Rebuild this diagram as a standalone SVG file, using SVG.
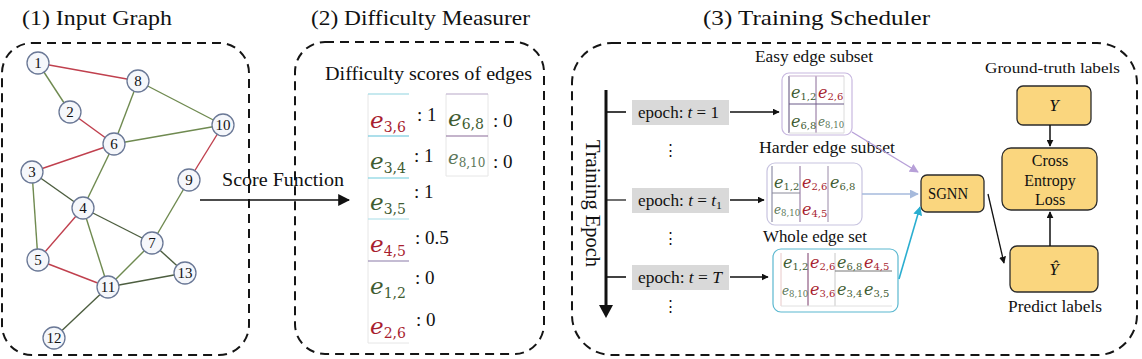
<svg xmlns="http://www.w3.org/2000/svg" width="1142" height="359" viewBox="0 0 1142 359">
<defs>
<style>
.t{font-family:"Liberation Serif","DejaVu Serif",serif;fill:#111}
.title{font-size:21px}
.panel{fill:none;stroke:#151515;stroke-width:2;stroke-dasharray:9 6}
.node circle{fill:#f5f7fb;stroke:#6a7896;stroke-width:1.3}
.node text{font-family:"Liberation Serif",serif;font-size:15px;text-anchor:middle;fill:#111}
.er{stroke:#c0404e;stroke-width:1.4}
.eg{stroke:#6f8a50;stroke-width:1.4}
.ed{stroke:#4d5e40;stroke-width:1.4}
.m{font-family:"DejaVu Serif","Liberation Serif",serif;font-style:italic}
.sub{font-style:normal}
.red{fill:#a81e30}
.grn{fill:#3f5c32}
.lg{fill:#5c775a}
.sc{font-family:"Liberation Serif",serif;font-size:19px;fill:#111}
.ep{fill:#d9d9d9}
.box{fill:#fad67e;stroke:#2b2b2b;stroke-width:1.3}
.ax{stroke:#111;stroke-width:1.6;fill:none}
.cell{stroke-width:1;fill:none}
</style>
<marker id="ah" viewBox="0 0 10 10" refX="9" refY="5" markerWidth="7" markerHeight="7" markerUnits="userSpaceOnUse" orient="auto"><path d="M0,0L10,5L0,10z" fill="#111"/></marker>
<marker id="ahb" viewBox="0 0 10 10" refX="9" refY="5" markerWidth="12" markerHeight="12" markerUnits="userSpaceOnUse" orient="auto"><path d="M0,0L10,5L0,10z" fill="#111"/></marker>
<marker id="ahp" viewBox="0 0 10 10" refX="9" refY="5" markerWidth="9" markerHeight="9" markerUnits="userSpaceOnUse" orient="auto"><path d="M0,0L10,5L0,10z" fill="#b7a0d8"/></marker>
<marker id="ahl" viewBox="0 0 10 10" refX="9" refY="5" markerWidth="9" markerHeight="9" markerUnits="userSpaceOnUse" orient="auto"><path d="M0,0L10,5L0,10z" fill="#a6badc"/></marker>
<marker id="ahc" viewBox="0 0 10 10" refX="9" refY="5" markerWidth="9" markerHeight="9" markerUnits="userSpaceOnUse" orient="auto"><path d="M0,0L10,5L0,10z" fill="#2aaed0"/></marker>
</defs>
<rect width="1142" height="359" fill="#fff"/>

<!-- Titles -->
<text class="t title" x="22" y="25" textLength="150" lengthAdjust="spacingAndGlyphs">(1) Input Graph</text>
<text class="t title" x="311" y="25" textLength="219" lengthAdjust="spacingAndGlyphs">(2) Difficulty Measurer</text>
<text class="t title" x="703" y="25" textLength="227" lengthAdjust="spacingAndGlyphs">(3) Training Scheduler</text>

<!-- Panels -->
<rect id="panel1" class="panel" x="2" y="43" width="247" height="312" rx="30"/>
<rect id="panel2" class="panel" x="295" y="42" width="249" height="312" rx="30"/>
<rect id="panel3" class="panel" x="572" y="43" width="565" height="312" rx="40"/>

<!-- Graph edges -->
<g id="graph-edges">
<line class="er" x1="38" y1="63" x2="138" y2="81"/>
<line class="eg" x1="38" y1="63" x2="70" y2="112"/>
<line class="er" x1="70" y1="112" x2="114" y2="144"/>
<line class="eg" x1="138" y1="81" x2="114" y2="144"/>
<line class="eg" x1="138" y1="81" x2="223" y2="125"/>
<line class="eg" x1="114" y1="144" x2="223" y2="125"/>
<line class="er" x1="32" y1="172" x2="114" y2="144"/>
<line class="eg" x1="114" y1="144" x2="83" y2="208"/>
<line class="er" x1="223" y1="125" x2="189" y2="180"/>
<line class="eg" x1="189" y1="180" x2="152" y2="243"/>
<line class="ed" x1="32" y1="172" x2="83" y2="208"/>
<line class="eg" x1="32" y1="172" x2="38" y2="260"/>
<line class="er" x1="83" y1="208" x2="38" y2="260"/>
<line class="ed" x1="83" y1="208" x2="152" y2="243"/>
<line class="eg" x1="83" y1="208" x2="108" y2="287"/>
<line class="er" x1="38" y1="260" x2="108" y2="287"/>
<line class="eg" x1="152" y1="243" x2="108" y2="287"/>
<line class="ed" x1="152" y1="243" x2="185" y2="273"/>
<line class="ed" x1="108" y1="287" x2="185" y2="273"/>
<line class="ed" x1="108" y1="287" x2="54" y2="338"/>
</g>

<!-- Graph nodes -->
<g id="n1" class="node"><circle cx="38" cy="63" r="11"/><text x="38" y="68">1</text></g>
<g id="n8" class="node"><circle cx="138" cy="81" r="11"/><text x="138" y="86">8</text></g>
<g id="n2" class="node"><circle cx="70" cy="112" r="11"/><text x="70" y="117">2</text></g>
<g id="n10" class="node"><circle cx="223" cy="125" r="11"/><text x="223" y="130">10</text></g>
<g id="n6" class="node"><circle cx="114" cy="144" r="11"/><text x="114" y="149">6</text></g>
<g id="n3" class="node"><circle cx="32" cy="172" r="11"/><text x="32" y="177">3</text></g>
<g id="n9" class="node"><circle cx="189" cy="180" r="11"/><text x="189" y="185">9</text></g>
<g id="n4" class="node"><circle cx="83" cy="208" r="11"/><text x="83" y="213">4</text></g>
<g id="n7" class="node"><circle cx="152" cy="243" r="11"/><text x="152" y="248">7</text></g>
<g id="n5" class="node"><circle cx="38" cy="260" r="11"/><text x="38" y="265">5</text></g>
<g id="n13" class="node"><circle cx="185" cy="273" r="11"/><text x="185" y="278">13</text></g>
<g id="n11" class="node"><circle cx="108" cy="287" r="11"/><text x="108" y="292">11</text></g>
<g id="n12" class="node"><circle cx="54" cy="338" r="11"/><text x="54" y="343">12</text></g>

<!-- Score function -->
<g id="score-function">
<text class="t" x="222" y="186" font-size="18" textLength="122" lengthAdjust="spacingAndGlyphs">Score Function</text>
<line class="ax" x1="200" y1="200" x2="349" y2="200" stroke-width="2" marker-end="url(#ahb)"/>
</g>

<!-- Difficulty scores -->
<g id="scores">
<text class="t" x="325" y="80" font-size="18" textLength="207" lengthAdjust="spacingAndGlyphs">Difficulty scores of edges</text>
<g stroke="#e6e6e6" stroke-width="1" fill="none">
<line x1="368" y1="94" x2="368" y2="343"/>
<line x1="446" y1="94" x2="446" y2="176"/>
<line x1="488" y1="94" x2="488" y2="176"/>
<line x1="446" y1="176" x2="488" y2="176"/>
<line x1="368" y1="343" x2="409" y2="343"/>
</g>
<g stroke-width="1.2">
<line x1="368" y1="94" x2="409" y2="94" stroke="#8fd4e0"/>
<line x1="368" y1="136" x2="409" y2="136" stroke="#5cc0d8"/>
<line x1="368" y1="178" x2="409" y2="178" stroke="#6ccbdc"/>
<line x1="368" y1="219" x2="409" y2="219" stroke="#a8dde8"/>
<line x1="368" y1="261" x2="409" y2="261" stroke="#8a7aa8"/>
<line x1="446" y1="94" x2="488" y2="94" stroke="#b8a8c8"/>
<line x1="446" y1="136" x2="488" y2="136" stroke="#8a6a98"/>
</g>
<text class="m red" x="370" y="128" font-size="23">e<tspan class="sub" font-size="14" dy="4">3,6</tspan></text>
<text class="m grn" x="370" y="169" font-size="23">e<tspan class="sub" font-size="14" dy="4">3,4</tspan></text>
<text class="m grn" x="370" y="210" font-size="23">e<tspan class="sub" font-size="14" dy="4">3,5</tspan></text>
<text class="m red" x="370" y="252" font-size="23">e<tspan class="sub" font-size="14" dy="4">4,5</tspan></text>
<text class="m grn" x="370" y="294" font-size="23">e<tspan class="sub" font-size="14" dy="4">1,2</tspan></text>
<text class="m red" x="370" y="334" font-size="23">e<tspan class="sub" font-size="14" dy="4">2,6</tspan></text>
<text class="m grn" x="448" y="126" font-size="23">e<tspan class="sub" font-size="14" dy="3">6,8</tspan></text>
<text class="m lg" x="448" y="164" font-size="18">e<tspan class="sub" font-size="12" dy="3">8,10</tspan></text>
<text class="sc" x="417" y="121">: 1</text>
<text class="sc" x="414" y="162">: 1</text>
<text class="sc" x="414" y="198">: 1</text>
<text class="sc" x="415" y="244">: 0.5</text>
<text class="sc" x="415" y="284">: 0</text>
<text class="sc" x="416" y="326">: 0</text>
<text class="sc" x="493" y="127">: 0</text>
<text class="sc" x="493" y="168">: 0</text>
</g>

<!-- Training axis -->
<g id="training-axis">
<line x1="606" y1="90" x2="606" y2="306" stroke="#111" stroke-width="3"/>
<path d="M599,305L613,305L606,318z" fill="#111"/>
<line x1="606" y1="112" x2="626" y2="112" stroke="#111" stroke-width="1.6"/>
<line x1="606" y1="200" x2="626" y2="200" stroke="#111" stroke-width="1.2"/>
<line x1="606" y1="277" x2="626" y2="277" stroke="#111" stroke-width="1.6"/>
<text class="t" transform="translate(593,140) rotate(90)" dominant-baseline="central" font-size="20" textLength="127" lengthAdjust="spacingAndGlyphs">Training Epoch</text>
</g>

<!-- Epoch boxes -->
<g id="epoch1"><rect class="ep" x="632" y="100" width="97" height="25"/><text class="t" x="638" y="118" font-size="16" textLength="81" lengthAdjust="spacingAndGlyphs">epoch: <tspan font-style="italic">t</tspan> = 1</text></g>
<g id="epoch2"><rect class="ep" x="632" y="188" width="97" height="25"/><text class="t" x="638" y="206" font-size="16" textLength="84" lengthAdjust="spacingAndGlyphs">epoch: <tspan font-style="italic">t</tspan> = <tspan font-style="italic">t</tspan><tspan font-size="11" dy="3">1</tspan></text></g>
<g id="epoch3"><rect class="ep" x="632" y="265" width="97" height="25"/><text class="t" x="638" y="283" font-size="16" textLength="84" lengthAdjust="spacingAndGlyphs">epoch: <tspan font-style="italic">t</tspan> = <tspan font-style="italic">T</tspan></text></g>
<g id="vdots" class="t" font-size="15" text-anchor="middle">
<text x="670" y="155">⋮</text>
<text x="670" y="243">⋮</text>
<text x="670" y="311">⋮</text>
</g>

<!-- Easy subset -->
<g id="easy-subset">
<text class="t" x="755" y="62" font-size="16" textLength="118" lengthAdjust="spacingAndGlyphs">Easy edge subset</text>
<rect x="782" y="73" width="70" height="62" rx="7" fill="#fff" stroke="#c8b8e0" stroke-width="1.2"/>
<g class="cell">
<line x1="789" y1="76" x2="789" y2="133" stroke="#5a4a78"/>
<line x1="816" y1="76" x2="816" y2="133" stroke="#8a6a98"/>
<line x1="844" y1="76" x2="844" y2="133" stroke="#dcdcdc"/>
<line x1="789" y1="76" x2="844" y2="76" stroke="#c8b0d0"/>
<line x1="789" y1="104" x2="844" y2="104" stroke="#6a5a88"/>
<line x1="789" y1="133" x2="844" y2="133" stroke="#dcdcdc"/>
</g>
<text class="m grn" x="791" y="98" font-size="16">e<tspan class="sub" font-size="10" dy="2">1,2</tspan></text>
<text class="m red" x="818" y="98" font-size="16">e<tspan class="sub" font-size="10" dy="2">2,6</tspan></text>
<text class="m grn" x="791" y="127" font-size="16">e<tspan class="sub" font-size="10" dy="2">6,8</tspan></text>
<text class="m lg" x="818" y="126" font-size="12">e<tspan class="sub" font-size="8.5" dy="2">8,10</tspan></text>
</g>

<!-- Harder subset -->
<g id="harder-subset">
<text class="t" x="759" y="153" font-size="16" textLength="136" lengthAdjust="spacingAndGlyphs">Harder edge subset</text>
<rect x="767" y="163" width="95" height="62" rx="8" fill="#fff" stroke="#c8c4e0" stroke-width="1.2"/>
<g class="cell">
<line x1="772" y1="166" x2="772" y2="222" stroke="#7a7a98"/>
<line x1="800" y1="166" x2="800" y2="222" stroke="#8a6a98"/>
<line x1="828" y1="166" x2="828" y2="222" stroke="#9a8aa8"/>
<line x1="772" y1="193" x2="800" y2="193" stroke="#8a8a9a"/>
</g>
<text class="m grn" x="774" y="188" font-size="16">e<tspan class="sub" font-size="10" dy="2">1,2</tspan></text>
<text class="m red" x="802" y="188" font-size="16">e<tspan class="sub" font-size="10" dy="2">2,6</tspan></text>
<text class="m grn" x="830" y="188" font-size="16">e<tspan class="sub" font-size="10" dy="2">6,8</tspan></text>
<text class="m lg" x="774" y="214" font-size="12">e<tspan class="sub" font-size="8.5" dy="2">8,10</tspan></text>
<text class="m red" x="802" y="215" font-size="16">e<tspan class="sub" font-size="10" dy="2">4,5</tspan></text>
</g>

<!-- Whole set -->
<g id="whole-set">
<text class="t" x="763" y="242" font-size="16" textLength="104" lengthAdjust="spacingAndGlyphs">Whole edge set</text>
<rect x="773" y="249" width="125" height="63" rx="8" fill="#fff" stroke="#5ab8d0" stroke-width="1.2"/>
<g class="cell">
<line x1="781" y1="253" x2="781" y2="306" stroke="#e8c8c8"/>
<line x1="808" y1="253" x2="808" y2="306" stroke="#7a3a6a"/>
<line x1="835" y1="253" x2="835" y2="306" stroke="#c8c8c8"/>
<line x1="835" y1="271" x2="892" y2="271" stroke="#777"/>
<line x1="781" y1="306" x2="892" y2="306" stroke="#e0e0e0"/>
</g>
<text class="m grn" x="783" y="268" font-size="16">e<tspan class="sub" font-size="10" dy="2">1,2</tspan></text>
<text class="m red" x="810" y="268" font-size="16">e<tspan class="sub" font-size="10" dy="2">2,6</tspan></text>
<text class="m grn" x="837" y="268" font-size="16">e<tspan class="sub" font-size="10" dy="2">6,8</tspan></text>
<text class="m red" x="864" y="268" font-size="16">e<tspan class="sub" font-size="10" dy="2">4,5</tspan></text>
<text class="m lg" x="782" y="295" font-size="12">e<tspan class="sub" font-size="8.5" dy="2">8,10</tspan></text>
<text class="m red" x="810" y="295" font-size="16">e<tspan class="sub" font-size="10" dy="2">3,6</tspan></text>
<text class="m grn" x="837" y="295" font-size="16">e<tspan class="sub" font-size="10" dy="2">3,4</tspan></text>
<text class="m grn" x="864" y="295" font-size="16">e<tspan class="sub" font-size="10" dy="2">3,5</tspan></text>
</g>

<!-- SGNN and loss -->
<g id="sgnn"><rect class="box" x="921" y="175" width="63" height="37" rx="6"/><text class="t" x="928" y="199" font-size="16" textLength="40" lengthAdjust="spacingAndGlyphs">SGNN</text></g>
<g id="y-true"><rect class="box" x="1017" y="86" width="74" height="39" rx="6"/><text class="t" x="1054" y="111" font-size="17" font-style="italic" text-anchor="middle">Y</text></g>
<g id="loss"><rect class="box" x="1002" y="148" width="95" height="62" rx="9"/>
<text class="t" font-size="16" text-anchor="middle"><tspan x="1050" y="166">Cross</tspan><tspan x="1050" y="186">Entropy</tspan><tspan x="1050" y="205">Loss</tspan></text></g>
<g id="y-pred"><rect class="box" x="1010" y="246" width="88" height="46" rx="7"/><text class="t" x="1054" y="275" font-size="17" font-style="italic" text-anchor="middle">Ŷ</text></g>
<text class="t" x="985" y="73" font-size="15" textLength="135" lengthAdjust="spacingAndGlyphs">Ground-truth labels</text>
<text class="t" x="1008" y="312" font-size="16" textLength="94" lengthAdjust="spacingAndGlyphs">Predict labels</text>

<!-- Connectors -->
<g id="connectors">
<line x1="730" y1="112" x2="779" y2="112" stroke="#111" stroke-width="1.6" marker-end="url(#ah)"/>
<line x1="730" y1="200" x2="764" y2="200" stroke="#111" stroke-width="1.6" marker-end="url(#ah)"/>
<line x1="730" y1="277" x2="768" y2="277" stroke="#111" stroke-width="1.6" marker-end="url(#ah)"/>
<line x1="852" y1="132" x2="918" y2="172" stroke="#b7a0d8" stroke-width="1.4" marker-end="url(#ahp)"/>
<line x1="862" y1="194" x2="918" y2="194" stroke="#a6badc" stroke-width="1.4" marker-end="url(#ahl)"/>
<line x1="899" y1="279" x2="920" y2="207" stroke="#2aaed0" stroke-width="1.6" marker-end="url(#ahc)"/>
<line x1="988" y1="194" x2="1004" y2="263" stroke="#111" stroke-width="1.3" marker-end="url(#ah)"/>
<line x1="1050" y1="125" x2="1050" y2="146" stroke="#111" stroke-width="1.5" marker-end="url(#ah)"/>
<line x1="1050" y1="246" x2="1050" y2="212" stroke="#111" stroke-width="1.5" marker-end="url(#ah)"/>
</g>
</svg>
